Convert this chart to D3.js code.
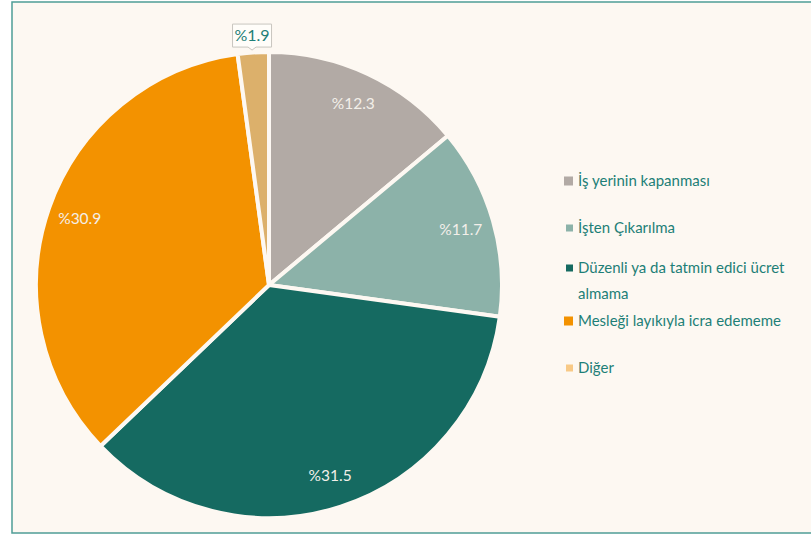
<!DOCTYPE html>
<html>
<head>
<meta charset="utf-8">
<script src="https://cdn.jsdelivr.net/npm/d3@7"></script>
<style>
  body { margin: 0; background: #ffffff; }
  svg { display: block; }
</style>
</head>
<body>
<svg id="chart"></svg>
<script>
const width = 811;
const height = 536;

const categories = [
  "İş yerinin kapanması",
  "İşten Çıkarılma",
  "Düzenli ya da tatmin edici ücret almama",
  "Mesleği layıkıyla icra edememe",
  "Diğer"
];
const values = [12.3, 11.7, 31.5, 30.9, 1.9];
const labels = ["%12.3", "%11.7", "%31.5", "%30.9", "%1.9"];
const sliceColors = ["#b2aaa5", "#8cb2a9", "#156a61", "#f39200", "#dcb06b"];
const legendColors = ["#b2aaa5", "#8cb2a9", "#156a61", "#f39200", "#f8c986"];
const legendLines = [
  ["İş yerinin kapanması"],
  ["İşten Çıkarılma"],
  ["Düzenli ya da tatmin edici ücret", "almama"],
  ["Mesleği layıkıyla icra edememe"],
  ["Diğer"]
];

const bg = "#fdf8f2";
const cx = 269, cy = 285, r = 233;

const svg = d3.select("#chart").attr("width", width).attr("height", height);

// frame
svg.append("rect")
  .attr("x", 12).attr("y", 2)
  .attr("width", 830).attr("height", 531)
  .attr("fill", bg)
  .attr("stroke", "#4f9d96")
  .attr("stroke-width", 1.5);

const data = values.map((v, i) => ({ name: categories[i], value: v, i }));
const pie = d3.pie().value(d => d.value).sort(null);
const arcs = pie(data);
const arc = d3.arc().innerRadius(0).outerRadius(r);

const g = svg.append("g").attr("transform", `translate(${cx},${cy})`);

g.selectAll("path")
  .data(arcs)
  .enter()
  .append("path")
  .attr("d", arc)
  .attr("fill", d => sliceColors[d.data.i])
  .attr("stroke", bg)
  .attr("stroke-width", 4)
  .attr("stroke-linejoin", "round");

// labels inside slices
const labelArc = d3.arc().innerRadius(200).outerRadius(200);
arcs.slice(0, 4).forEach(d => {
  const [x, y] = labelArc.centroid(d);
  g.append("text")
    .attr("x", x - 22)
    .attr("y", y)
    .attr("dy", "0.35em")
    .attr("font-family", "Lato, 'Open Sans', sans-serif")
    .attr("font-size", 15.5)
    .attr("fill", "#f3efe9")
    .text(labels[d.data.i]);
});

// callout for the small slice
const last = arcs[4];
const outArc = d3.arc().innerRadius(251).outerRadius(251);
const [lx, ly] = outArc.centroid(last);
const bw = 39, bh = 23;
g.append("path")
  .attr("d", `M${lx - bw / 2},${ly - bh / 2 + 1}h${bw}v${bh}h${-bw / 2 + 4}l-4,3l-4,-3h${-bw / 2 + 4}z`)
  .attr("fill", "#fffdf9")
  .attr("stroke", "#c9c6bf")
  .attr("stroke-width", 1);
g.append("text")
  .attr("x", lx)
  .attr("y", ly + 1)
  .attr("dy", "0.35em")
  .attr("text-anchor", "middle")
  .attr("font-family", "Lato, 'Open Sans', sans-serif")
  .attr("font-size", 16)
  .attr("fill", "#1e7f77")
  .text(labels[4]);

// legend
const legendY = [181, 228, 268, 321, 368];
const markerSize = [9, 7, 7, 9, 7];
const legend = svg.append("g");
legendLines.forEach((lines, i) => {
  const s = markerSize[i];
  legend.append("rect")
    .attr("x", 573 - s).attr("y", legendY[i] - s / 2)
    .attr("width", s).attr("height", s)
    .attr("fill", legendColors[i]);
  lines.forEach((t, j) => {
    legend.append("text")
      .attr("x", 578)
      .attr("y", legendY[i] + j * 26)
      .attr("dy", "0.35em")
      .attr("font-family", "Lato, 'Open Sans', sans-serif")
      .attr("font-size", 15)
      .attr("fill", "#1e7f77")
      .text(t);
  });
});
</script>
</body>
</html>
